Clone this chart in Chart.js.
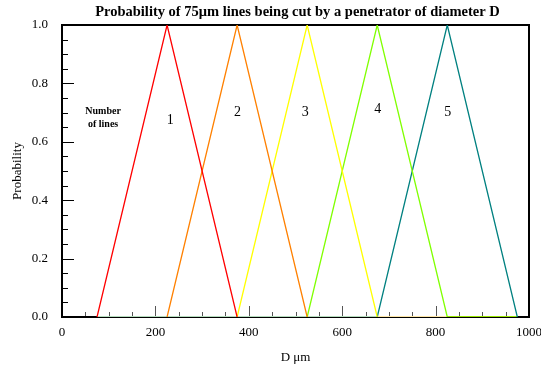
<!DOCTYPE html>
<html lang="en">
<head>
    <meta charset="UTF-8">
    <title>Probability of 75μm lines being cut</title>
    <script src="https://cdn.jsdelivr.net/npm/chart.js"></script>
    <style>
        body { margin: 0; background: #fff; }
        #wrap { width: 541px; height: 371px; }
    </style>
</head>
<body>
    <div id="wrap"><canvas id="probChart" width="541" height="371"></canvas></div>

    <script>
        // number of lines cut -> triangle (start, peak, end) in D (μm)
        const lineCounts = ["1", "2", "3", "4", "5"];
        const startD = [75, 225, 375, 525, 675];
        const peakD = [225, 375, 525, 675, 825];
        const endD = [375, 525, 675, 825, 975];
        const peakProb = [1.0, 1.0, 1.0, 1.0, 1.0];
        const lineColors = ["#ff0000", "#ff8000", "#ffff00", "#80ff00", "#008080"];

        // where the count labels sit (D, probability)
        const labelD = [232, 376, 521, 676, 826];
        const labelP = [0.675, 0.70, 0.70, 0.71, 0.70];

        // zero run along the axis
        const baseD = [75, 675, 825, 975];
        const baseColors = ["#b4dcbc", "#fde6a6", "#98e600"];

        const xTicks = [0, 200, 400, 600, 800, 1000];
        const yTicks = [0.0, 0.2, 0.4, 0.6, 0.8, 1.0];

        const serif = "'Liberation Serif', 'DejaVu Serif', serif";

        const datasets = lineCounts.map((n, i) => ({
            label: n,
            data: [{ x: startD[i], y: 0 }, { x: peakD[i], y: peakProb[i] }, { x: endD[i], y: 0 }],
            borderColor: lineColors[i],
            borderWidth: 1.3,
            pointRadius: 0,
            tension: 0
        }));

        datasets.push({
            label: "base",
            data: baseD.map(d => ({ x: d, y: 0 })),
            borderWidth: 2,
            pointRadius: 0,
            segment: { borderColor: ctx => baseColors[ctx.p0DataIndex] }
        });

        const boxAndTicks = {
            id: "boxAndTicks",
            beforeDatasetsDraw(chart) {
                const { ctx, chartArea: a, scales: { x, y } } = chart;
                ctx.save();
                ctx.strokeStyle = "#000";
                ctx.lineWidth = 1;
                // inner ticks on left axis
                for (let v = 0; v <= 1.0001; v += 0.05) {
                    const py = Math.round(y.getPixelForValue(v)) + 0.5;
                    const major = Math.abs(v * 5 - Math.round(v * 5)) < 1e-6;
                    ctx.beginPath();
                    ctx.moveTo(a.left, py);
                    ctx.lineTo(a.left + (major ? 12 : 6), py);
                    ctx.stroke();
                }
                // inner ticks on bottom axis
                ctx.strokeStyle = "#555";
                for (let v = 0; v <= 1000; v += 50) {
                    const px = Math.round(x.getPixelForValue(v)) + 0.5;
                    const major = v % 200 === 0;
                    ctx.beginPath();
                    ctx.moveTo(px, a.bottom);
                    ctx.lineTo(px, a.bottom - (major ? 11 : 5));
                    ctx.stroke();
                }
                ctx.strokeStyle = "#000";
                ctx.lineWidth = 2;
                ctx.strokeRect(a.left, a.top, a.right - a.left, a.bottom - a.top);
                ctx.restore();
            },
            afterDatasetsDraw(chart) {
                const { ctx, chartArea: a, scales: { x, y } } = chart;
                ctx.save();
                ctx.fillStyle = "#000";
                ctx.textAlign = "center";
                ctx.textBaseline = "middle";
                ctx.font = "bold 14.5px " + serif;
                ctx.fillText("Probability of 75μm lines being cut by a penetrator of diameter D", (a.left + a.right) / 2 + 2, 12);
                ctx.font = "bold 10px " + serif;
                ctx.fillText("Number", x.getPixelForValue(88), y.getPixelForValue(0.705));
                ctx.fillText("of lines", x.getPixelForValue(88), y.getPixelForValue(0.66));
                ctx.font = "14px " + serif;
                lineCounts.forEach((n, i) => {
                    ctx.fillText(n, x.getPixelForValue(labelD[i]), y.getPixelForValue(labelP[i]));
                });
                ctx.restore();
            }
        };

        new Chart(document.getElementById("probChart"), {
            type: "line",
            data: { datasets: datasets },
            options: {
                responsive: false,
                animation: false,
                devicePixelRatio: 1,
                layout: { padding: { top: 25, right: 12, left: 0, bottom: 0 } },
                plugins: { legend: { display: false }, tooltip: { enabled: false } },
                scales: {
                    x: {
                        type: "linear",
                        min: 0,
                        max: 1000,
                        afterBuildTicks: s => { s.ticks = xTicks.map(v => ({ value: v })); },
                        afterFit: s => { s.height = 54; s.paddingLeft = 0; s.paddingRight = 0; },
                        grid: { display: false, drawTicks: false },
                        border: { display: false },
                        ticks: { color: "#000", padding: 8, maxRotation: 0, callback: v => String(v), font: { family: serif, size: 13 } },
                        title: { display: true, text: "D μm", color: "#000", padding: { top: 0, bottom: 6 }, font: { family: serif, size: 13 } }
                    },
                    y: {
                        min: 0,
                        max: 1,
                        afterBuildTicks: s => { s.ticks = yTicks.map(v => ({ value: v })); },
                        afterFit: s => { s.width = 62; s.paddingTop = 0; s.paddingBottom = 0; },
                        grid: { display: false, drawTicks: false },
                        border: { display: false },
                        ticks: { color: "#000", padding: 14, callback: v => v.toFixed(1), font: { family: serif, size: 13 } },
                        title: { display: true, text: "Probability", color: "#000", padding: { top: 10, bottom: 0 }, font: { family: serif, size: 13 } }
                    }
                }
            },
            plugins: [boxAndTicks]
        });
    </script>
</body>
</html>
